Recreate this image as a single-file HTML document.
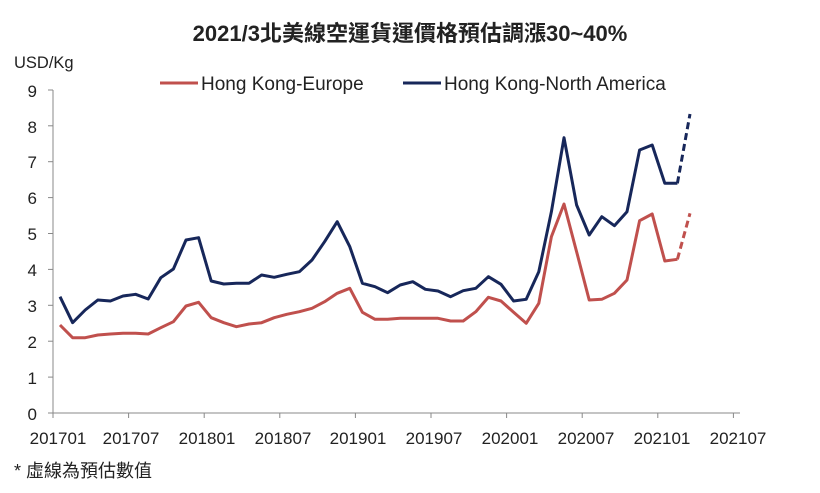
<!DOCTYPE html>
<html><head><meta charset="utf-8"><style>
body{margin:0;background:#fff;}
svg text{font-family:"Liberation Sans","Noto Sans CJK TC",sans-serif;fill:#222;}
</style></head><body>
<svg width="820" height="488" viewBox="0 0 820 488" xmlns="http://www.w3.org/2000/svg">
<text x="410" y="41" font-size="22" font-weight="bold" text-anchor="middle">2021/3北美線空運貨運價格預估調漲30~40%</text>
<text x="14" y="68" font-size="16.5">USD/Kg</text>
<line x1="160" y1="83" x2="198" y2="83" stroke="#c0504d" stroke-width="3"/>
<text x="201" y="90" font-size="19">Hong Kong-Europe</text>
<line x1="403" y1="83" x2="441" y2="83" stroke="#17275a" stroke-width="3"/>
<text x="444" y="90" font-size="19">Hong Kong-North America</text>
<g stroke="#888" stroke-width="1">
<line x1="53" y1="90" x2="53" y2="413"/>
<line x1="53" y1="413" x2="740" y2="413"/>
<line x1="48" y1="413" x2="53" y2="413"/><line x1="48" y1="377.1" x2="53" y2="377.1"/><line x1="48" y1="341.2" x2="53" y2="341.2"/><line x1="48" y1="305.3" x2="53" y2="305.3"/><line x1="48" y1="269.4" x2="53" y2="269.4"/><line x1="48" y1="233.5" x2="53" y2="233.5"/><line x1="48" y1="197.6" x2="53" y2="197.6"/><line x1="48" y1="161.7" x2="53" y2="161.7"/><line x1="48" y1="125.8" x2="53" y2="125.8"/><line x1="48" y1="90" x2="53" y2="90"/>
<line x1="53" y1="413" x2="53" y2="418"/><line x1="128.6" y1="413" x2="128.6" y2="418"/><line x1="204.2" y1="413" x2="204.2" y2="418"/><line x1="279.8" y1="413" x2="279.8" y2="418"/><line x1="355.4" y1="413" x2="355.4" y2="418"/><line x1="431" y1="413" x2="431" y2="418"/><line x1="506.6" y1="413" x2="506.6" y2="418"/><line x1="582.2" y1="413" x2="582.2" y2="418"/><line x1="657.8" y1="413" x2="657.8" y2="418"/><line x1="733.4" y1="413" x2="733.4" y2="418"/>
</g>
<g font-size="17" text-anchor="end">
<text x="37" y="420">0</text><text x="37" y="384">1</text><text x="37" y="348">2</text><text x="37" y="312">3</text><text x="37" y="276">4</text><text x="37" y="240">5</text><text x="37" y="204">6</text><text x="37" y="168">7</text><text x="37" y="133">8</text><text x="37" y="97">9</text>
</g>
<g font-size="17" text-anchor="middle">
<text x="58" y="444">201701</text><text x="131" y="444">201707</text><text x="207" y="444">201801</text><text x="283" y="444">201807</text><text x="358" y="444">201901</text><text x="434" y="444">201907</text><text x="510" y="444">202001</text><text x="586" y="444">202007</text><text x="662" y="444">202101</text><text x="738" y="444">202107</text>
</g>
<text x="14" y="477" font-size="18">* 虛線為預估數值</text>
<g fill="none" stroke-width="3" stroke-linejoin="round">
<polyline stroke="#17275a" points="60,296.7 72.6,322.7 85.2,310 97.8,300 110.4,301 123,296 135.6,294.3 148.2,299 160.8,277.7 173.4,269 186,240 198.6,237.7 211.2,281 223.8,284 236.4,283.3 249,283.3 261.6,275 274.2,277.3 286.8,274.3 299.4,271.7 312,260 324.6,241.7 337.2,221.7 349.8,246.7 362.4,283.3 375,286.7 387.6,292.7 400.2,285 412.8,281.7 425.4,289.3 438,291 450.6,296.7 463.2,290.7 475.8,288.3 488.4,276.7 501,284.3 513.6,301 526.2,299.3 538.8,271.7 551.4,211.7 564,137.7 576.6,205 589.2,235 601.8,216.7 614.4,225.7 627,211.7 639.6,150 652.2,145 664.8,183.3 677.4,183.3"/>
<polyline stroke="#17275a" stroke-dasharray="7,4" points="677.4,183.3 690,114"/>
<polyline stroke="#c0504d" points="60,325 72.6,337.7 85.2,337.7 97.8,335 110.4,334 123,333.3 135.6,333.3 148.2,334 160.8,327.7 173.4,321.7 186,306 198.6,302.3 211.2,317.7 223.8,322.7 236.4,326.7 249,324 261.6,322.7 274.2,317.7 286.8,314.3 299.4,311.7 312,308.3 324.6,301.7 337.2,293.3 349.8,288.3 362.4,312.3 375,319.3 387.6,319.3 400.2,318.3 412.8,318.3 425.4,318.3 438,318.3 450.6,321 463.2,321 475.8,311.7 488.4,297.3 501,301 513.6,312.3 526.2,323.3 538.8,303.3 551.4,236.7 564,204 576.6,251.7 589.2,300 601.8,299.3 614.4,293.3 627,280 639.6,220.7 652.2,214 664.8,261 677.4,259.3"/>
<polyline stroke="#c0504d" stroke-dasharray="7,4" points="677.4,259.3 690,213.3"/>
</g>
</svg>
</body></html>
